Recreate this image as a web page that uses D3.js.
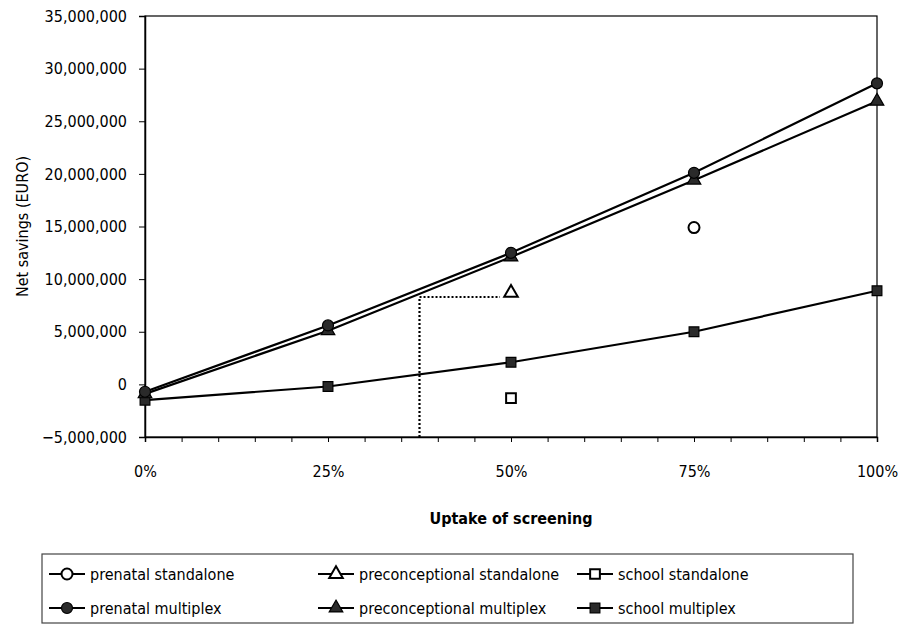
<!DOCTYPE html>
<html>
<head>
<meta charset="utf-8">
<script src="https://cdn.jsdelivr.net/npm/d3@7"></script>
<style>
  body { margin: 0; background: #fff; }
  svg text { font-family: "DejaVu Sans Condensed", "DejaVu Sans", sans-serif; fill: #000; }
</style>
</head>
<body>
<svg id="chart" width="903" height="626"></svg>
<script>
// Uptake levels (x) and net savings in EURO (y)
const uptake = [0, 0.25, 0.5, 0.75, 1];
const prenatalMultiplex = [-700000, 5600000, 12500000, 20100000, 28600000];
const preconceptionalMultiplex = [-900000, 5100000, 12100000, 19400000, 26900000];
const schoolMultiplex = [-1500000, -200000, 2100000, 5000000, 8900000];

// Standalone programmes: single evaluated points
const prenatalStandalone = [{ u: 0.75, v: 14900000 }];
const preconceptionalStandalone = [{ u: 0.5, v: 8700000 }];
const schoolStandalone = [{ u: 0.5, v: -1300000 }];

// Equal-savings guide: multiplex uptake matching the standalone result
const guideUptake = 0.375;
const guideSavings = 8300000;
const guideEndUptake = 0.485;

const yTickValues = [-5000000, 0, 5000000, 10000000, 15000000, 20000000, 25000000, 30000000, 35000000];
const xLabelValues = [0, 0.25, 0.5, 0.75, 1];
const xTickValues = d3.range(0, 21).map(i => i / 20);

const legendItems = [
  { label: "prenatal standalone", shape: "circle", filled: false },
  { label: "preconceptional standalone", shape: "triangle", filled: false },
  { label: "school standalone", shape: "square", filled: false },
  { label: "prenatal multiplex", shape: "circle", filled: true },
  { label: "preconceptional multiplex", shape: "triangle", filled: true },
  { label: "school multiplex", shape: "square", filled: true }
];

const svg = d3.select("#chart");
const plot = { left: 145, right: 877, top: 16, bottom: 437 };

const x = d3.scaleLinear().domain([0, 1]).range([plot.left, plot.right]);
const y = d3.scaleLinear().domain([-5000000, 35000000]).range([plot.bottom, plot.top]);

// Plot frame
svg.append("rect")
  .attr("x", plot.left).attr("y", plot.top)
  .attr("width", plot.right - plot.left).attr("height", plot.bottom - plot.top)
  .attr("fill", "none").attr("stroke", "#000").attr("stroke-width", 1.2);

// Y axis
const yAxis = d3.axisLeft(y)
  .tickValues(yTickValues)
  .tickFormat(d3.format(","))
  .tickSize(6)
  .tickPadding(12);
const gy = svg.append("g").attr("transform", `translate(${plot.left},0)`).call(yAxis);
gy.select(".domain").attr("stroke-width", 1.5);
gy.selectAll("text").style("font-size", "16px");

// X axis: minor ticks every 5%, labels at quarters
const xAxis = d3.axisBottom(x)
  .tickValues(xTickValues)
  .tickFormat(d => xLabelValues.some(v => Math.abs(v - d) < 1e-9) ? d3.format(".0%")(d) : "")
  .tickSize(5)
  .tickPadding(24);
const gx = svg.append("g").attr("transform", `translate(0,${plot.bottom})`).call(xAxis);
gx.select(".domain").attr("stroke-width", 1.5);
gx.selectAll("text").style("font-size", "16px");

// Axis titles
svg.append("text")
  .attr("transform", `translate(28,${(plot.top + plot.bottom) / 2}) rotate(-90)`)
  .attr("text-anchor", "middle")
  .style("font-size", "16px")
  .text("Net savings (EURO)");

svg.append("text")
  .attr("x", (plot.left + plot.right) / 2)
  .attr("y", 524)
  .attr("text-anchor", "middle")
  .style("font-size", "16px")
  .style("font-weight", "bold")
  .text("Uptake of screening");

// Dotted guide
const guide = d3.line().x(d => x(d[0])).y(d => y(d[1]));
svg.append("path")
  .attr("d", guide([[guideUptake, -5000000], [guideUptake, guideSavings], [guideEndUptake, guideSavings]]))
  .attr("fill", "none").attr("stroke", "#000").attr("stroke-width", 2.2)
  .attr("stroke-dasharray", "2,2");

// Multiplex series lines
const line = d3.line().x((d, i) => x(uptake[i])).y(d => y(d));
[schoolMultiplex, preconceptionalMultiplex, prenatalMultiplex].forEach(series => {
  svg.append("path")
    .attr("d", line(series))
    .attr("fill", "none").attr("stroke", "#000").attr("stroke-width", 2.2);
});

// Marker shapes
const symbolFor = { circle: d3.symbolCircle, triangle: d3.symbolTriangle, square: d3.symbolSquare };
const sizeFor = { circle: 95, triangle: 80, square: 95 };
function marker(g, shape, filled, cx, cy) {
  g.append("path")
    .attr("d", d3.symbol(symbolFor[shape], sizeFor[shape])())
    .attr("transform", `translate(${cx},${cy})`)
    .attr("fill", filled ? "#2a2a2a" : "#fff")
    .attr("stroke", "#000")
    .attr("stroke-width", filled ? 1.2 : 2);
}

const markers = svg.append("g");
[[schoolMultiplex, "square"], [preconceptionalMultiplex, "triangle"], [prenatalMultiplex, "circle"]]
  .forEach(([series, shape]) => series.forEach((v, i) => marker(markers, shape, true, x(uptake[i]), y(v))));

[[prenatalStandalone, "circle"], [preconceptionalStandalone, "triangle"], [schoolStandalone, "square"]]
  .forEach(([pts, shape]) => pts.forEach(p => marker(markers, shape, false, x(p.u), y(p.v))));

// Legend
const legend = { left: 42, top: 554, right: 853, bottom: 623 };
svg.append("rect")
  .attr("x", legend.left).attr("y", legend.top)
  .attr("width", legend.right - legend.left).attr("height", legend.bottom - legend.top)
  .attr("fill", "none").attr("stroke", "#444").attr("stroke-width", 1.2);

const colX = [49, 318, 577];
const rowY = [574, 608];
legendItems.forEach((item, i) => {
  const cx = colX[i % 3], cy = rowY[Math.floor(i / 3)];
  const g = svg.append("g");
  g.append("line")
    .attr("x1", cx).attr("x2", cx + 36).attr("y1", cy).attr("y2", cy)
    .attr("stroke", "#000").attr("stroke-width", 2);
  marker(g, item.shape, item.filled, cx + 18, cy);
  g.append("text")
    .attr("x", cx + 41).attr("y", cy)
    .attr("dy", "0.35em")
    .style("font-size", "16px")
    .text(item.label);
});
</script>
</body>
</html>
